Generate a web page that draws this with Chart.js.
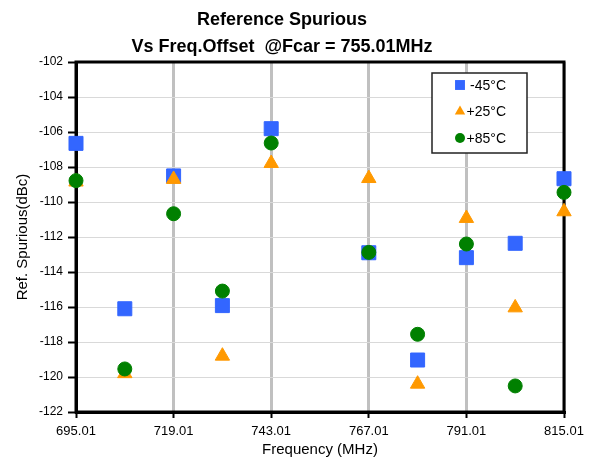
<!DOCTYPE html>
<html>
<head>
<meta charset="utf-8">
<script src="https://cdn.jsdelivr.net/npm/chart.js@4.4.0/dist/chart.umd.min.js"></script>
<style>
  html, body { margin: 0; padding: 0; background: #fff; }
</style>
</head>
<body>
<canvas id="chart" width="591" height="459"></canvas>
<script>
// Data
const freqs = [695.01, 707.01, 719.01, 731.01, 743.01, 767.01, 779.01, 791.01, 803.01, 815.01];
const xTicks = [695.01, 719.01, 743.01, 767.01, 791.01, 815.01];
const seriesNames = ['-45°C', '+25°C', '+85°C'];
const minus45 = [-106.65, -116.1, -108.51, -115.92, -105.81, -112.9, -119.03, -113.18, -112.36, -108.67];
const plus25 = [-108.85, -119.8, -108.7, -118.8, -107.79, -108.65, -120.4, -110.93, -116.04, -110.55];
const plus85 = [-108.78, -119.54, -110.67, -115.09, -106.63, -112.88, -117.56, -112.4, -120.51, -109.45];
const titleLines = ['Reference Spurious', 'Vs Freq.Offset  @Fcar = 755.01MHz'];

const colors = ['#3366ff', '#ff9900', '#008000'];
const styles = ['rect', 'triangle', 'circle'];
const radii = [9.9, 8.3, 7];

Chart.defaults.font.family = 'Arial, "Liberation Sans", sans-serif';
Chart.defaults.color = '#000';

const toPoints = vals => vals.map((v, i) => ({ x: freqs[i], y: v }));

// plot frame + legend box
const frameAndLegend = {
  id: 'frameAndLegend',
  beforeDatasetsDraw(chart) {
    const { ctx, chartArea: a } = chart;
    ctx.save();
    ctx.strokeStyle = '#000';
    ctx.lineWidth = 3;
    ctx.strokeRect(a.left, a.top, a.right - a.left, a.bottom - a.top);
    ctx.restore();
  },
  afterDatasetsDraw(chart) {
    const { ctx, chartArea: a } = chart;
    const bx = a.right - 132, by = a.top + 11, bw = 95, bh = 80;
    ctx.save();
    ctx.fillStyle = '#fff';
    ctx.fillRect(bx, by, bw, bh);
    ctx.strokeStyle = '#222';
    ctx.lineWidth = 1.5;
    ctx.strokeRect(bx, by, bw, bh);
    const legendR = [7, 6, 5];
    seriesNames.forEach((name, i) => {
      const y = by + 12 + i * 26.5;
      ctx.fillStyle = colors[i];
      ctx.strokeStyle = colors[i];
      Chart.helpers.drawPoint(ctx, { pointStyle: styles[i], radius: legendR[i], rotation: 0, borderWidth: 0 }, bx + 28, y);
      ctx.fillStyle = '#000';
      ctx.font = '14px Arial, "Liberation Sans", sans-serif';
      ctx.textAlign = 'right';
      ctx.textBaseline = 'middle';
      ctx.fillText(name, bx + 74, y + 1);
    });
    ctx.restore();
  }
};

new Chart(document.getElementById('chart'), {
  type: 'scatter',
  data: {
    datasets: [minus45, plus25, plus85].map((vals, i) => ({
      label: seriesNames[i],
      data: toPoints(vals),
      pointStyle: styles[i],
      pointRadius: radii[i],
      pointHoverRadius: radii[i],
      pointBackgroundColor: colors[i],
      pointBorderColor: colors[i],
      pointBorderWidth: 1,
      order: 3 - i,
      clip: false
    }))
  },
  options: {
    responsive: false,
    animation: false,
    layout: { padding: { left: 0, right: 27, top: 0, bottom: 0 } },
    plugins: {
      legend: { display: false },
      tooltip: { enabled: false },
      title: {
        display: true,
        text: titleLines,
        color: '#000',
        font: { size: 18, weight: 'bold', lineHeight: 1.5 },
        padding: { top: 7, bottom: 1 }
      }
    },
    scales: {
      x: {
        type: 'linear',
        min: 695.01,
        max: 815.01,
        afterBuildTicks: s => { s.ticks = xTicks.map(v => ({ value: v })); },
        afterFit: s => { s.height = 47; },
        ticks: { callback: v => v.toFixed(2), font: { size: 13 }, color: '#000', padding: 6, maxRotation: 0, autoSkip: false },
        grid: { color: '#c0c0c0', lineWidth: 3, tickColor: '#000', tickWidth: 2, tickLength: 6 },
        border: { color: '#000', width: 3 },
        title: { display: true, text: 'Frequency (MHz)', font: { size: 15 }, color: '#000', padding: { top: 0, bottom: 0 } }
      },
      y: {
        min: -122,
        max: -102,
        afterFit: s => { s.width = 76; },
        ticks: { stepSize: 2, font: { size: 12 }, color: '#000', padding: 5 },
        grid: { color: '#d9d9d9', lineWidth: 1, tickColor: '#000', tickWidth: 2, tickLength: 8 },
        border: { color: '#000', width: 3 },
        title: { display: true, text: 'Ref. Spurious(dBc)', font: { size: 15 }, color: '#000', padding: { top: 14, bottom: 0 } }
      }
    }
  },
  plugins: [frameAndLegend]
});
</script>
</body>
</html>
